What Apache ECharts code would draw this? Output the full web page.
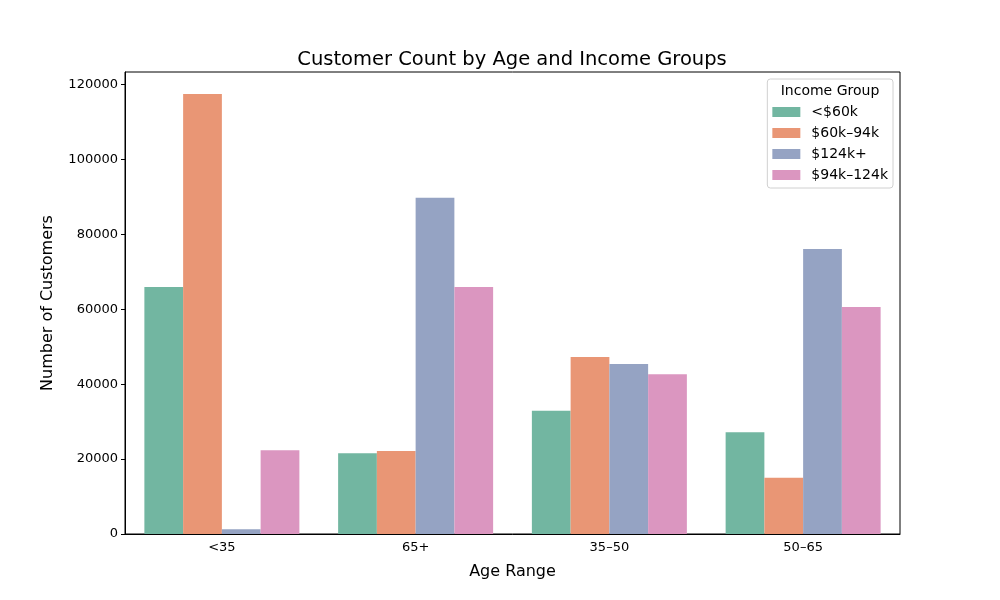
<!DOCTYPE html>
<html>
<head>
<meta charset="utf-8">
<script src="https://cdn.jsdelivr.net/npm/echarts@6/dist/echarts.min.js"></script>
<style>
  html, body { margin: 0; padding: 0; background: #fff; }
  #main { width: 1000px; height: 600px; }
</style>
</head>
<body>
<div id="main"></div>
<script>
var ageRanges = ['<35', '65+', '35–50', '50–65'];
var incomeGroups = ['<$60k', '$60k–94k', '$124k+', '$94k–124k'];
var colors = ['#72b6a1', '#e99675', '#95a3c3', '#db96c0'];

// customers per income group, in ageRanges order
var under60k = [66000, 21600, 32900, 27200];
var from60to94k = [117500, 22200, 47300, 15000];
var over124k = [1300, 89800, 45400, 76100];
var from94to124k = [22400, 66000, 42700, 60600];

var seriesValues = [under60k, from60to94k, over124k, from94to124k];
var yTicks = [0, 20000, 40000, 60000, 80000, 100000, 120000];

var font = 'DejaVu Sans';
var myChart = echarts.init(document.getElementById('main'));

myChart.setOption({
    animation: false,
    color: colors,
    title: [{
        text: 'Customer Count by Age and Income Groups',
        left: 512, top: 50, textAlign: 'center', padding: 0,
        textStyle: { fontFamily: font, fontSize: 19.5, fontWeight: 'normal', color: '#000' }
    }, {
        text: 'Income Group',
        left: 830, top: 84, textAlign: 'center', padding: 0,
        textStyle: { fontFamily: font, fontSize: 14, fontWeight: 'normal', color: '#000' }
    }],
    legend: {
        data: incomeGroups,
        orient: 'vertical',
        right: 107, top: 79,
        itemWidth: 28, itemHeight: 10, itemGap: 7,
        padding: [26, 5, 6, 5],
        borderColor: '#d0d0d0', borderWidth: 1, borderRadius: 3,
        backgroundColor: 'rgba(255,255,255,0.8)',
        icon: 'rect',
        textStyle: { fontFamily: font, fontSize: 14, color: '#000', padding: [0, 0, 0, 6] }
    },
    grid: {
        left: 125, right: 100, top: 72, bottom: 66,
        show: true, borderColor: '#000', borderWidth: 1
    },
    xAxis: {
        type: 'category',
        data: ageRanges,
        name: 'Age Range',
        nameLocation: 'middle', nameGap: 30,
        nameTextStyle: { fontFamily: font, fontSize: 16, color: '#000' },
        axisLine: { lineStyle: { color: '#000' } },
        axisTick: { alignWithLabel: true, length: 4, lineStyle: { color: '#000' } },
        axisLabel: { fontFamily: font, fontSize: 13, color: '#000', margin: 7 }
    },
    yAxis: {
        type: 'value',
        min: 0, max: 123400, interval: 20000,
        name: 'Number of Customers',
        nameLocation: 'middle', nameGap: 69,
        nameTextStyle: { fontFamily: font, fontSize: 16, color: '#000' },
        axisLine: { show: true, lineStyle: { color: '#000' } },
        axisTick: { show: true, length: 4, lineStyle: { color: '#000' } },
        splitLine: { show: false },
        axisLabel: {
            fontFamily: font, fontSize: 13, color: '#000', margin: 7,
            showMaxLabel: false,
            formatter: function (v) { return yTicks.indexOf(v) >= 0 ? String(v) : ''; }
        }
    },
    series: incomeGroups.map(function (name, i) {
        return {
            name: name,
            type: 'bar',
            data: seriesValues[i],
            barGap: '0%',
            barCategoryGap: '20%'
        };
    })
});
</script>
</body>
</html>
